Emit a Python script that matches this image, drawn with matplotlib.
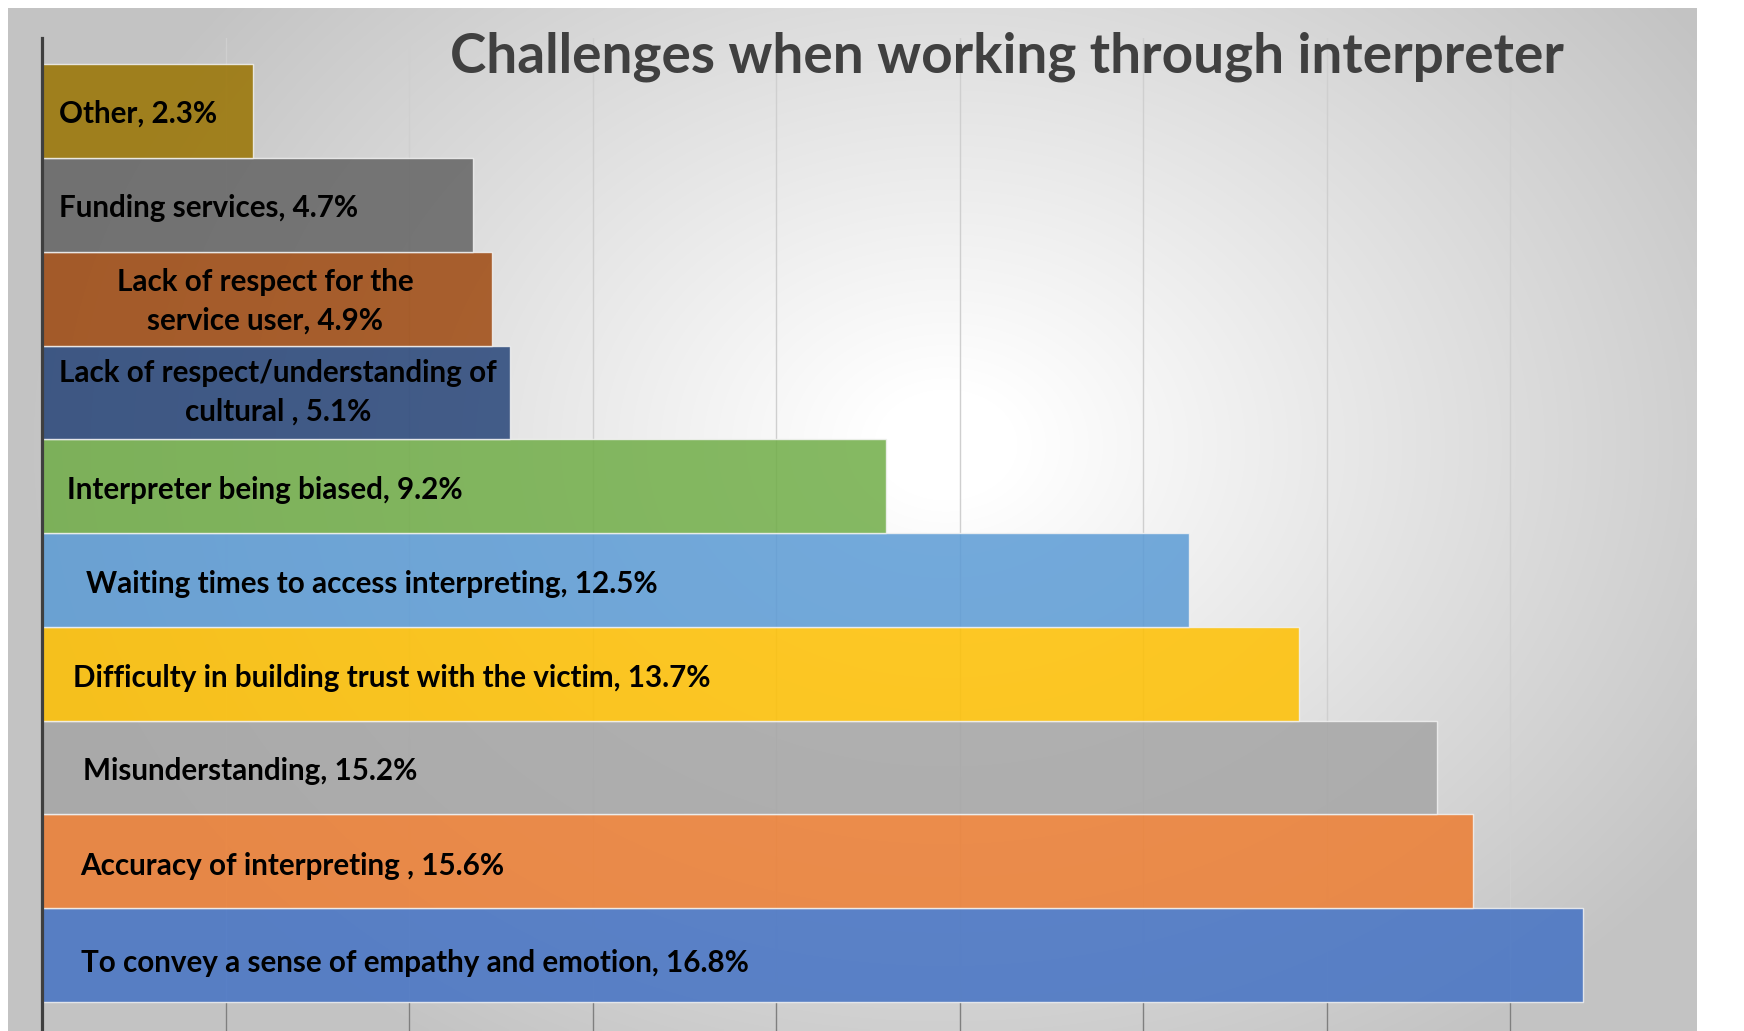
import numpy as np
import matplotlib.pyplot as plt

# bars listed bottom to top
categories = [
    "To convey a sense of empathy and emotion",
    "Accuracy of interpreting ",
    "Misunderstanding",
    "Difficulty in building trust with the victim",
    "Waiting times to access interpreting",
    "Interpreter being biased",
    "Lack of respect/understanding of\ncultural ",
    "Lack of respect for the\nservice user",
    "Funding services",
    "Other",
]
values = [16.8, 15.6, 15.2, 13.7, 12.5, 9.2, 5.1, 4.9, 4.7, 2.3]

colors = ["#4472C4", "#ED7D31", "#A5A5A5", "#FFC000", "#5B9BD5",
          "#70AD47", "#264478", "#9E480E", "#636363", "#997300"]

# where each data label sits (x in %, vertical nudge, alignment)
label_x = [0.43, 0.415, 0.45, 0.34, 0.475, 0.27, 2.57, 2.43, 0.185, 0.185]
label_dy = [-0.08, -0.045, -0.04, -0.045, -0.045, -0.04, 0.0, -0.03, -0.035, -0.03]
label_ha = ["left"] * 6 + ["center", "center"] + ["left"] * 2

W, H = 1744, 1031
fig = plt.figure(figsize=(W / 100, H / 100), dpi=100)
fig.patch.set_facecolor("white")

# radial grey background of the chart area
x0, y0, x1, y1 = 8, 8, 1696, 1031
xs = np.arange(x0, x1)
ys = np.arange(y0, y1)
gx, gy = np.meshgrid(xs, ys)
d = np.sqrt(((gx - 945) / 900.0) ** 2 + ((gy - 445) / 700.0) ** 2)
shade = 255 - 60 * np.clip((d - 0.08) / 0.95, 0, 1)
bg = fig.add_axes([x0 / W, 0, (x1 - x0) / W, (y1 - y0) / H], zorder=-2)
bg.imshow(np.dstack([shade] * 3).astype(np.uint8), aspect="auto",
          interpolation="bilinear")
bg.axis("off")

ax = fig.add_axes([42 / W, 0, 1651.5 / W, 993 / H])
ax.set_facecolor("none")

y = np.arange(len(values))
ax.barh(y, values, height=1.0, color=colors, alpha=0.85,
        edgecolor="#f2f2f2", linewidth=1.0, zorder=2)

for yi, v, name, lx, dy, ha in zip(y, values, categories, label_x,
                                   label_dy, label_ha):
    ax.text(lx, yi + dy, f"{name}, {v}%", ha=ha, va="center", fontsize=21.3,
            fontweight="bold", family="Lato", color="black",
            multialignment="center", linespacing=1.45, zorder=3)

ax.set_xlim(0, 18)
ax.set_ylim(-0.81, 9.78)
ax.set_xticks(np.arange(0, 18, 2))
ax.set_yticks([])
ax.xaxis.grid(True, color="#cfcfcf", linewidth=1.0, zorder=0)
ax.set_axisbelow(True)
ax.tick_params(axis="x", direction="in", length=21, width=1.0,
               color="#7f7f7f", labelbottom=False)
for s in ["top", "right", "bottom"]:
    ax.spines[s].set_visible(False)
ax.spines["left"].set_color("#3f3f3f")
ax.spines["left"].set_linewidth(2.3)

fig.text(1007 / W, 1 - 72 / H, "Challenges when working through interpreter",
         ha="center", va="baseline", fontsize=39.5, fontweight="bold",
         family="Lato", color="#404040")

fig.savefig("out.png", dpi=100)
